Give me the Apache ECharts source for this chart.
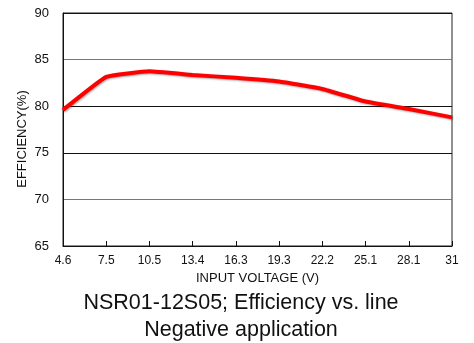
<!DOCTYPE html>
<html>
<head>
<meta charset="utf-8">
<script src="https://cdn.jsdelivr.net/npm/echarts@6/dist/echarts.min.js"></script>
<style>html,body{margin:0;padding:0;background:#fff}#c{width:474px;height:343px}</style>
</head>
<body>
<div id="c"></div>
<script>
var categories = ['4.6','7.5','10.5','13.4','16.3','19.3','22.2','25.1','28.1','31'];
var efficiency = [79.6, 83.15, 83.75, 83.35, 83.05, 82.65, 81.85, 80.5, 79.7, 78.8];
var yMin = 65, yMax = 90, yStep = 5;
var titleLines = ['NSR01-12S05; Efficiency vs. line', 'Negative application'];
var yName = 'EFFICIENCY(%)';
var xName = 'INPUT VOLTAGE (V)';

var FF = 'Liberation Sans, Arial, sans-serif';
var chart = echarts.init(document.getElementById('c'), null, {renderer: 'canvas'});
chart.setOption({
  animation: false,
  backgroundColor: '#fff',
  textStyle: {fontFamily: FF},
  title: {
    text: titleLines.join('\n'),
    left: 236, top: 285, textAlign: 'center',
    textStyle: {fontSize: 21.5, fontWeight: 'normal', color: '#111', lineHeight: 27, fontFamily: FF}
  },
  graphic: [{
    type: 'text', x: 22, y: 139, rotation: Math.PI / 2,
    style: {text: yName, font: '13px ' + FF, fill: '#111', textAlign: 'center', textVerticalAlign: 'middle'}
  }],
  grid: {left: 63, right: 22, top: 13, bottom: 97, show: true, borderColor: '#222', borderWidth: 1, backgroundColor: 'transparent'},
  xAxis: {
    type: 'category', data: categories, boundaryGap: false,
    name: xName, nameLocation: 'middle', nameGap: 25,
    nameTextStyle: {fontSize: 13, color: '#111'},
    axisLine: {lineStyle: {color: '#111', width: 1}},
    axisTick: {inside: true, length: 5, lineStyle: {color: '#111'}},
    axisLabel: {fontSize: 12, color: '#111', margin: 9},
    splitLine: {show: false}
  },
  yAxis: {
    type: 'value', min: yMin, max: yMax, interval: yStep,
    axisLine: {show: true, lineStyle: {color: '#111'}},
    axisTick: {show: false},
    axisLabel: {fontSize: 13, color: '#111', margin: 14},
    splitLine: {show: true, lineStyle: {color: ['#111', '#777', '#111', '#111', '#777', '#111'], width: 1}}
  },
  series: [{
    type: 'line', data: efficiency, smooth: 0.1, symbol: 'none',
    lineStyle: {color: '#ff0000', width: 4, shadowColor: 'rgba(0,0,0,0.35)', shadowBlur: 2, shadowOffsetX: 1, shadowOffsetY: 1}
  }]
});
</script>
</body>
</html>
